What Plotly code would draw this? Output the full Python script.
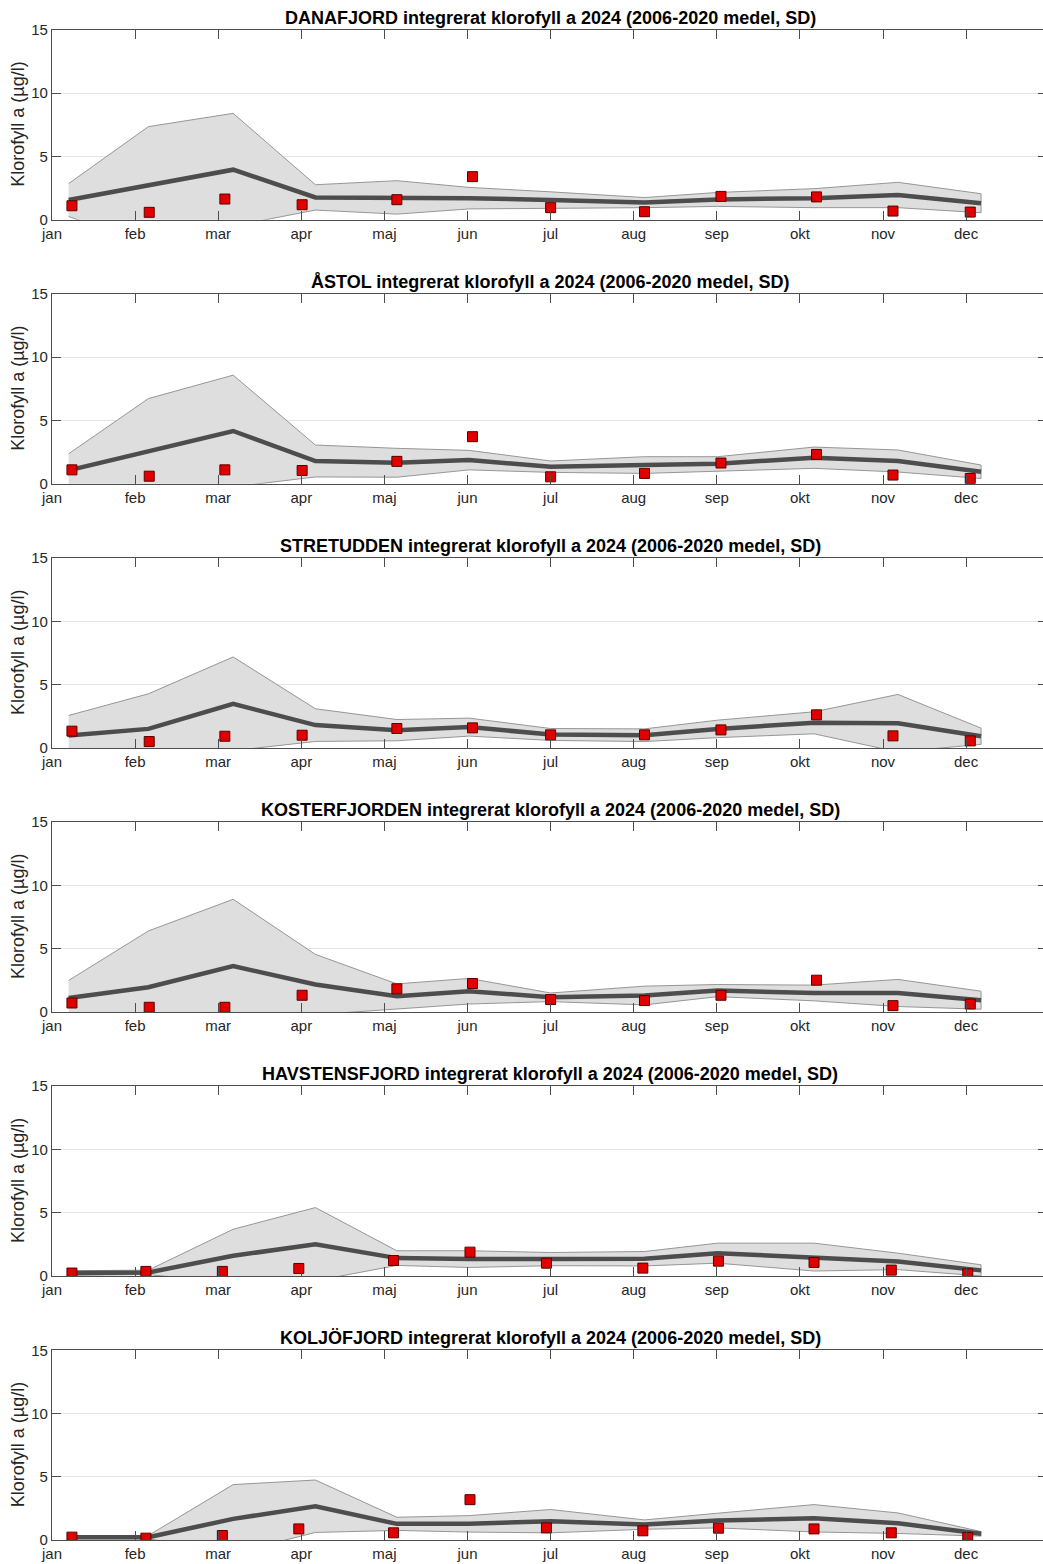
import plotly.graph_objects as go

# ---------------- data ----------------
months = ['jan', 'feb', 'mar', 'apr', 'maj', 'jun', 'jul', 'aug', 'sep', 'okt', 'nov', 'dec']
month_pos = list(range(1, 13))
y_ticks = [0, 5, 10, 15]
right_ticks = [5, 10]

stations = ['DANAFJORD', 'ÅSTOL', 'STRETUDDEN', 'KOSTERFJORDEN', 'HAVSTENSFJORD', 'KOLJÖFJORD']

# x positions (month units) of the 2006-2020 monthly means
mean_x = [1.2, 2.16, 3.18, 4.17, 5.15, 6.02, 7.0, 8.13, 9.01, 10.17, 11.18, 12.18]
# x positions (month units) of the 2024 samplings
sample_x_a = [1.24, 2.17, 3.08, 4.01, 5.15, 6.06, 7.0, 8.13, 9.05, 10.2, 11.12, 12.05]
sample_x_b = [1.24, 2.13, 3.05, 3.97, 5.11, 6.03, 6.95, 8.11, 9.02, 10.17, 11.1, 12.02]

danafjord_mean = [1.55, 2.7, 3.95, 1.76, 1.76, 1.7, 1.55, 1.35, 1.6, 1.7, 1.95, 1.3]
danafjord_sd = [1.3, 4.65, 4.45, 1.0, 1.32, 0.85, 0.65, 0.4, 0.55, 0.75, 1.0, 0.75]
danafjord_2024 = [1.1, 0.58, 1.63, 1.18, 1.58, 3.4, 0.95, 0.63, 1.84, 1.8, 0.68, 0.6]

astol_mean = [1.06, 2.6, 4.17, 1.8, 1.66, 1.87, 1.35, 1.48, 1.58, 2.06, 1.8, 0.95]
astol_sd = [1.31, 4.13, 4.41, 1.26, 1.14, 0.77, 0.45, 0.66, 0.56, 0.84, 0.87, 0.53]
astol_2024 = [1.1, 0.6, 1.1, 1.05, 1.77, 3.72, 0.55, 0.82, 1.64, 2.32, 0.69, 0.42]

stretudden_mean = [0.98, 1.5, 3.48, 1.8, 1.4, 1.64, 1.06, 1.0, 1.5, 1.98, 1.95, 0.92]
stretudden_sd = [1.58, 2.77, 3.7, 1.29, 0.84, 0.71, 0.47, 0.5, 0.69, 0.87, 2.27, 0.64]
stretudden_2024 = [1.32, 0.5, 0.92, 1.0, 1.53, 1.58, 1.03, 1.03, 1.42, 2.61, 0.95, 0.55]

kosterfjorden_mean = [1.11, 1.96, 3.62, 2.17, 1.24, 1.64, 1.16, 1.3, 1.69, 1.5, 1.5, 0.93]
kosterfjorden_sd = [1.38, 4.44, 5.28, 2.38, 0.98, 1.01, 0.34, 0.74, 0.48, 0.62, 1.07, 0.71]
kosterfjorden_2024 = [0.71, 0.37, 0.37, 1.32, 1.83, 2.25, 0.98, 0.9, 1.32, 2.51, 0.5, 0.63]

havstensfjord_mean = [0.24, 0.29, 1.6, 2.52, 1.42, 1.34, 1.34, 1.37, 1.81, 1.5, 1.16, 0.45]
havstensfjord_sd = [0.18, 0.18, 2.1, 2.89, 0.58, 0.66, 0.52, 0.57, 0.79, 1.1, 0.65, 0.44]
havstensfjord_2024 = [0.24, 0.37, 0.37, 0.6, 1.23, 1.89, 1.02, 0.63, 1.18, 1.08, 0.47, 0.18]

koljofjord_mean = [0.24, 0.24, 1.68, 2.68, 1.29, 1.29, 1.5, 1.23, 1.55, 1.73, 1.34, 0.5]
koljofjord_sd = [0.13, 0.13, 2.71, 2.07, 0.52, 0.65, 0.92, 0.37, 0.58, 1.08, 0.81, 0.18]
koljofjord_2024 = [0.24, 0.16, 0.37, 0.89, 0.58, 3.2, 0.97, 0.74, 0.95, 0.89, 0.58, 0.21]

station_means = [danafjord_mean, astol_mean, stretudden_mean, kosterfjorden_mean,
                 havstensfjord_mean, koljofjord_mean]
station_sds = [danafjord_sd, astol_sd, stretudden_sd, kosterfjorden_sd,
               havstensfjord_sd, koljofjord_sd]
station_2024 = [danafjord_2024, astol_2024, stretudden_2024, kosterfjorden_2024,
                havstensfjord_2024, koljofjord_2024]
station_sample_x = [sample_x_a, sample_x_a, sample_x_a, sample_x_a, sample_x_b, sample_x_b]

# ---------------- layout constants ----------------
W, H = 1043, 1564
LEFT = 52
PLOT_W = W - LEFT
TOP0 = 21
STEP = 267.0
PH = 192
MONTH_PX = 83.1
x_right = 1 + PLOT_W / MONTH_PX
N = len(stations)

AXIS_COLOR = '#4d4d4d'
TICK_FONT = dict(family='Liberation Sans, Arial', size=15, color='#262626')
TITLE_FONT = dict(family='Liberation Sans, Arial', size=18, color='#000000')
YLAB_FONT = dict(family='Liberation Sans, Arial', size=18, color='#262626')

fig = go.Figure()
annotations = []

for i, name in enumerate(stations):
    ax = '' if i == 0 else str(i + 1)
    xref = 'x' + ax
    yref = 'y' + ax
    rnum = str(N + 1 + i)  # overlay axis for right-side ticks
    mean = station_means[i]
    sd = station_sds[i]
    upper = [m + s for m, s in zip(mean, sd)]
    lower = [m - s for m, s in zip(mean, sd)]

    # SD band as a closed polygon
    fig.add_trace(go.Scatter(
        x=mean_x + mean_x[::-1], y=upper + lower[::-1],
        mode='lines', fill='toself', fillcolor='rgb(222,222,222)',
        line=dict(color='rgb(150,150,150)', width=1),
        xaxis=xref, yaxis=yref, showlegend=False, hoverinfo='skip'))
    # mean line
    fig.add_trace(go.Scatter(
        x=mean_x, y=mean, mode='lines',
        line=dict(color='rgb(77,77,77)', width=4.5),
        xaxis=xref, yaxis=yref, showlegend=False))
    # 2024 values
    fig.add_trace(go.Scatter(
        x=station_sample_x[i], y=station_2024[i], mode='markers',
        marker=dict(symbol='square', size=10, color='rgb(225,0,0)',
                    line=dict(color='rgb(90,0,0)', width=1)),
        xaxis=xref, yaxis=yref, showlegend=False))
    # empty trace to register the right-hand tick axis
    fig.add_trace(go.Scatter(x=[], y=[], mode='markers', xaxis=xref, yaxis='y' + rnum,
                             showlegend=False, hoverinfo='skip'))

    top = TOP0 + STEP * i
    d_top = 1 - top / H
    d_bot = 1 - (top + PH) / H

    fig.update_layout(**{
        'xaxis' + ax: dict(
            domain=[0, 1], range=[1, x_right], anchor=yref,
            tickvals=month_pos, ticktext=months, tickfont=TICK_FONT,
            ticks='inside', ticklen=9, tickcolor=AXIS_COLOR,
            showline=True, linecolor=AXIS_COLOR, linewidth=1.3, mirror='ticks',
            showgrid=False, zeroline=False),
        'yaxis' + ax: dict(
            domain=[d_bot, d_top], range=[0, 15], anchor=xref,
            tickvals=y_ticks, tickfont=TICK_FONT,
            ticks='inside', ticklen=9, tickcolor=AXIS_COLOR,
            showline=True, linecolor=AXIS_COLOR, linewidth=1.3,
            showgrid=True, gridcolor='rgb(228,228,228)', gridwidth=1,
            zeroline=False),
        'yaxis' + rnum: dict(
            overlaying=yref, side='right', anchor=xref, range=[0, 15],
            tickvals=right_ticks, showticklabels=False,
            ticks='inside', ticklen=5, tickcolor=AXIS_COLOR,
            showline=False, showgrid=False, zeroline=False),
    })

    annotations.append(dict(
        text='<b>%s integrerat klorofyll a 2024 (2006-2020 medel, SD)</b>' % name,
        xref='paper', yref='paper', x=(550 - LEFT) / PLOT_W, y=d_top,
        xanchor='center', yanchor='bottom', yshift=0, showarrow=False, font=TITLE_FONT))
    annotations.append(dict(
        text='Klorofyll a (µg/l)', xref='paper', yref='paper',
        x=(18 - LEFT) / PLOT_W, y=(d_top + d_bot) / 2, xanchor='center', yanchor='middle',
        textangle=-90, showarrow=False, font=YLAB_FONT))

fig.update_layout(
    width=W, height=H,
    margin=dict(l=LEFT, r=0, t=0, b=0),
    paper_bgcolor='white', plot_bgcolor='white',
    annotations=annotations,
    showlegend=False,
)

fig.write_html('out.html')
